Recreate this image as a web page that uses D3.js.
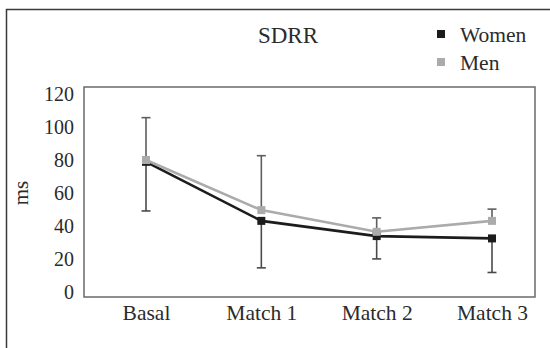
<!DOCTYPE html>
<html>
<head>
<meta charset="utf-8">
<script src="https://cdn.jsdelivr.net/npm/d3@7/dist/d3.min.js"></script>
<style>
  body { margin: 0; background: #fff; }
  text { font-family: "Liberation Serif", "Times New Roman", serif; fill: #2b2b2b; }
</style>
</head>
<body>
<svg id="chart" width="550" height="348"></svg>
<script>
// data
var categories = ["Basal", "Match 1", "Match 2", "Match 3"];
var women = [79, 43.3, 34.1, 32.7];
var men = [80.1, 49.8, 36.7, 43.3];
var menErrUp = [25.6, 32.9, 8.4, 7.1];
var womenErrDown = [29.7, 28.4, 13.8, 20.6];
var yTicks = [0, 20, 40, 60, 80, 100, 120];

var svg = d3.select("#chart");

// outer frame (only top and left visible)
svg.append("path")
  .attr("d", "M6.5,348V9.5H550")
  .attr("fill", "none")
  .attr("stroke", "#3a3a3a")
  .attr("stroke-width", 1.5);

var x = d3.scalePoint().domain(categories).range([146, 492]);
var y = d3.scaleLinear().domain([0, 120]).range([292.5, 94]);

// plot box
svg.append("rect")
  .attr("x", 84).attr("y", 87)
  .attr("width", 451).attr("height", 210)
  .attr("fill", "none")
  .attr("stroke", "#6a6a6a")
  .attr("stroke-width", 1.5);

// y axis labels
var yAxis = svg.append("g")
  .attr("transform", "translate(74,0)")
  .call(d3.axisLeft(y).tickValues(yTicks).tickSize(0).tickPadding(0));
yAxis.select(".domain").remove();
yAxis.selectAll("text")
  .attr("font-size", 20)
  .attr("font-family", "Liberation Serif, serif")
  .attr("fill", "#2b2b2b");

// x axis labels
var xAxis = svg.append("g")
  .attr("transform", "translate(0,297)")
  .call(d3.axisBottom(x).tickSize(0).tickPadding(8));
xAxis.select(".domain").remove();
xAxis.selectAll("text")
  .attr("font-size", 21.5)
  .attr("font-family", "Liberation Serif, serif")
  .attr("fill", "#2b2b2b");

// y axis title
svg.append("text")
  .attr("transform", "translate(28,193) rotate(-90)")
  .attr("text-anchor", "middle")
  .attr("font-size", 21)
  .text("ms");

// title
svg.append("text")
  .attr("x", 288).attr("y", 43)
  .attr("text-anchor", "middle")
  .attr("font-size", 23)
  .text("SDRR");

// error bars
function errorBar(base, tip, col) {
  svg.append("g").selectAll("g")
    .data(categories)
    .enter().append("g")
    .each(function(c, i) {
      var g = d3.select(this);
      var cx = x(c);
      g.append("line")
        .attr("x1", cx).attr("x2", cx)
        .attr("y1", y(base[i])).attr("y2", y(tip[i]))
        .attr("stroke", col).attr("stroke-width", 1.6);
      g.append("line")
        .attr("x1", cx - 4.5).attr("x2", cx + 4.5)
        .attr("y1", y(tip[i])).attr("y2", y(tip[i]))
        .attr("stroke", col).attr("stroke-width", 1.6);
    });
}
errorBar(women, women.map(function(v, i) { return v - womenErrDown[i]; }), "#4a4a4a");
errorBar(men, men.map(function(v, i) { return v + menErrUp[i]; }), "#5e5e5e");

var line = d3.line()
  .x(function(d, i) { return x(categories[i]); })
  .y(function(d) { return y(d); });

function series(vals, col) {
  svg.append("path")
    .datum(vals)
    .attr("d", line)
    .attr("fill", "none")
    .attr("stroke", col)
    .attr("stroke-width", 2.6);
  svg.append("g").selectAll("rect")
    .data(vals)
    .enter().append("rect")
    .attr("x", function(d, i) { return x(categories[i]) - 4; })
    .attr("y", function(d) { return y(d) - 4; })
    .attr("width", 8).attr("height", 8)
    .attr("fill", col);
}
series(women, "#1c1c1c");
series(men, "#ababab");

// legend
var legend = [["Women", "#1c1c1c"], ["Men", "#ababab"]];
var lg = svg.append("g").selectAll("g")
  .data(legend)
  .enter().append("g")
  .attr("transform", function(d, i) { return "translate(437," + (34 + i * 28) + ")"; });
lg.append("rect")
  .attr("x", 0).attr("y", -4)
  .attr("width", 8).attr("height", 8)
  .attr("fill", function(d) { return d[1]; });
lg.append("text")
  .attr("x", 23).attr("y", 7.5)
  .attr("font-size", 21.5)
  .text(function(d) { return d[0]; });
</script>
</body>
</html>
